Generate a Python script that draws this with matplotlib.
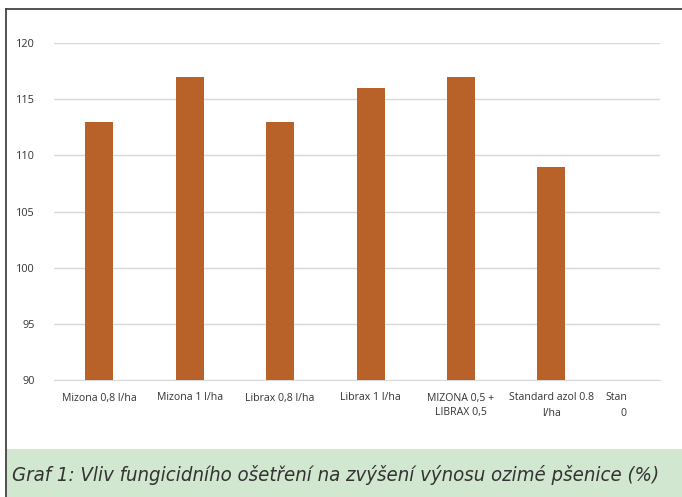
import matplotlib.pyplot as plt
import matplotlib.transforms as mtransforms
import numpy as np

# Data
categories = ["Mizona 0,8 l/ha", "Mizona 1 l/ha", "Librax 0,8 l/ha", "Librax 1 l/ha",
              "MIZONA 0,5 +\nLIBRAX 0,5", "Standard azol 0.8\nl/ha", "Stan\n0"]
values = [113, 117, 113, 116, 117, 109, np.nan]
yticks = [90, 95, 100, 105, 110, 115, 120]
caption = "Graf 1: Vliv fungicidního ošetření na zvýšení výnosu ozimé pšenice (%)"

bar_color = "#b8622a"
band_color = "#d2e7cf"

fig = plt.figure(figsize=(6.82, 4.97), dpi=100)
W, H = 682, 497

# frame lines and caption band
fig.patches.append(plt.Rectangle((6 / W, 0), 1, 48 / H, transform=fig.transFigure,
                                 facecolor=band_color, edgecolor="none", zorder=0))
fig.lines.append(plt.Line2D([6 / W, 6 / W], [0, 1 - 9 / H], transform=fig.transFigure,
                            color="#444444", lw=1.3))
fig.lines.append(plt.Line2D([6 / W, 1], [1 - 9 / H, 1 - 9 / H], transform=fig.transFigure,
                            color="#444444", lw=1.3))

ax = fig.add_axes([54 / W, 1 - 380 / H, (660 - 54) / W, (380 - 43) / H])
x = np.arange(len(categories))
ax.bar(x, values, width=0.31, color=bar_color, zorder=3)
ax.set_ylim(90, 120)
ax.set_xlim(-0.5, 6.2)
ax.set_yticks(yticks)
ax.yaxis.grid(True, color="#d9d9d9", lw=1.0, zorder=0)
for s in ["top", "right", "left"]:
    ax.spines[s].set_visible(False)
ax.spines["bottom"].set_color("#d9d9d9")
ax.tick_params(length=0, labelsize=8.3, colors="#333333")
ax.tick_params(axis="y", pad=14)
ax.tick_params(axis="x", pad=9)
ax.set_xticks(x)
ax.set_xticklabels(categories, fontfamily="Open Sans", fontsize=7.6, linespacing=1.5)
for lab in ax.get_yticklabels():
    lab.set_fontfamily("Open Sans")
    lab.set_fontsize(7.8)

last = ax.get_xticklabels()[-1]
last.set_horizontalalignment("right")
last.set_multialignment("right")
last.set_transform(last.get_transform() + mtransforms.ScaledTranslation(-0.15, 0, fig.dpi_scale_trans))

fig.text(12 / W, 22 / H, caption, fontsize=14.6, style="italic", color="#333333",
         family="DejaVu Sans", stretch="condensed", va="center", ha="left")

fig.savefig("out.png", dpi=100)
